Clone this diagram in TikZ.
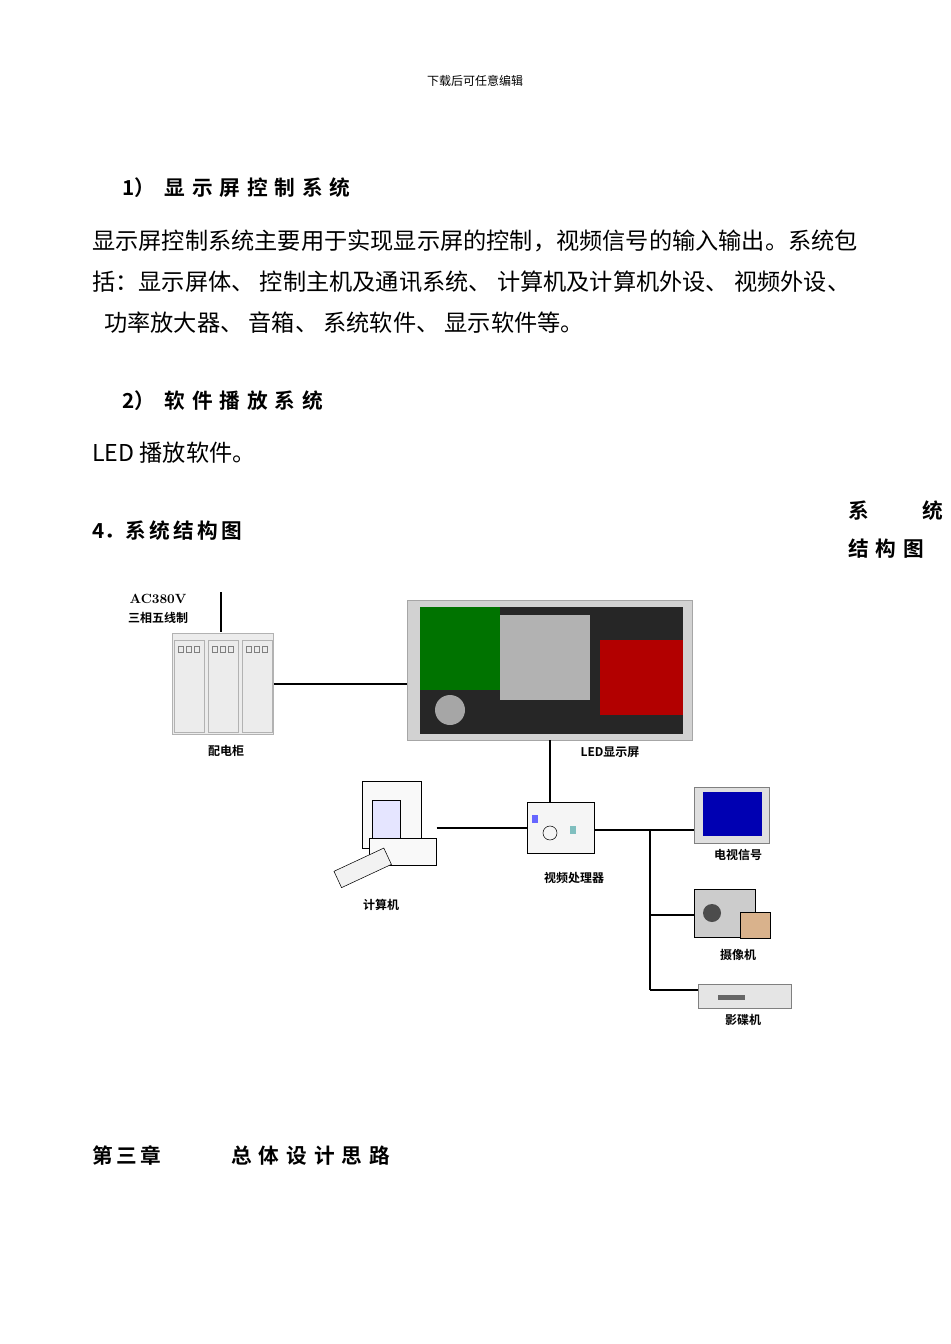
\documentclass[tikz,border=0pt]{standalone}
\usepackage{fontspec}
\newfontfamily\cjk{Noto Sans CJK SC}
\newfontfamily\cjkb{Noto Sans CJK SC Bold}
\begin{document}
\begin{tikzpicture}[x=0.75pt,y=-0.75pt,
  body/.style={font=\cjk\fontsize{17.4}{18}\selectfont,anchor=west,inner sep=0},
  head/.style={font=\cjkb\fontsize{15.5}{18}\selectfont,anchor=west,inner sep=0},
  lab/.style={font=\cjkb\fontsize{9}{10}\selectfont,inner sep=0},
  wire/.style={line width=2.2pt,black}]
\useasboundingbox (0,0) rectangle (950,1344);
\fill[white] (0,0) rectangle (950,1344);
\node[font=\cjk\fontsize{9}{10}\selectfont] (hdr) at (475,81) {下载后可任意编辑};
\node[head] (h1) at (122,188) {1）\ \ 显\,\,示\,\,屏\,\,控\,\,制\,\,系\,\,统};
\node[body] (p1) at (92,241) {显示屏控制系统主要用于实现显示屏的控制，视频信号的输入输出。系统包};
\node[body] (p2) at (92,282) {括：显示屏体、\ 控制主机及通讯系统、\ 计算机及计算机外设、\ 视频外设、};
\node[body] (p3) at (104,323) {功率放大器、\ 音箱、\ 系统软件、\ 显示软件等。};
\node[head] (h2) at (122,401) {2）\ \ 软\,\,件\,\,播\,\,放\,\,系\,\,统};
\node[body] (p4) at (92,453) {LED 播放软件。};
\node[head] (h4) at (92,531) {4．系\,统\,结\,构\,图};
\node[head] (r1) at (848,511) {系\hspace{2.6em}统};
\node[head] (r2) at (848,549) {结\,\,构\,\,图};
% power text
\node[lab,font=\bfseries\fontsize{10}{10}\selectfont] (ac) at (158,599) {AC380V};
\fill[white] (100,580) rectangle (220,593);
\node[lab] (ac2) at (158,618) {三相五线制};
% cabinet
\node[draw=gray!60,fill=gray!15,minimum width=76pt,minimum height=76pt,inner sep=0] (cab) at (223,684) {};
\foreach \i in {0,1,2}{\draw[gray!60] (174+34*\i,640) rectangle (204+34*\i,732);
 \foreach \j in {0,1,2}{\draw[gray] (178+34*\i+8*\j,646) rectangle (183+34*\i+8*\j,652);}}
\node[lab] (cabl) at (226,751) {配电柜};
\coordinate (top) at (221,592);
\draw[wire] (top) -- (221,632);
% screen
\node[draw=gray!70,fill=gray!35,minimum width=214pt,minimum height=105pt,inner sep=0] (scr) at (550,670) {};
\fill[black!85] (420,607) rectangle (683,734);
\fill[green!45!black] (420,607) rectangle (500,690);
\fill[red!70!black] (600,640) rectangle (683,715);
\fill[gray!60] (500,615) rectangle (590,700);
\fill[gray!70] (450,710) circle (15);
\node[lab] (scrl) at (610,752) {\textit{LED}显示屏};
% processor
\node[draw=black,fill=gray!8,minimum width=50pt,minimum height=38pt,inner sep=0] (proc) at (561,828) {};
\draw (550,833) circle (7);
\fill[blue!60] (532,815) rectangle (538,823);
\fill[teal!50] (570,826) rectangle (576,834);
\node[lab] (procl) at (574,878) {视频处理器};
% computer
\node[draw=black,fill=gray!5,minimum width=44pt,minimum height=50pt,inner sep=0] (mon) at (392,815) {};
\fill[blue!10,draw=black] (372,800) rectangle (400,840);
\node[draw=black,fill=gray!5,minimum width=50pt,minimum height=20pt,inner sep=0] (pc) at (403,852) {};
\draw[fill=gray!10,rotate around={25:(360,868)}] (335,860) rectangle (390,878);
\node[lab] (pcl) at (381,905) {计算机};
% TV
\node[draw=gray,fill=gray!25,minimum width=56pt,minimum height=42pt,inner sep=0] (tv) at (732,815) {};
\fill[blue!70!black] (703,792) rectangle (762,836);
\node[lab] (tvl) at (738,855) {电视信号};
% camera
\node[draw=black,fill=gray!40,minimum width=46pt,minimum height=36pt,inner sep=0] (cam) at (725,913) {};
\fill[black!70] (712,913) circle (9);
\fill[brown!60,draw=black] (740,912) rectangle (770,938);
\node[lab] (caml) at (738,955) {摄像机};
% DVD
\node[draw=gray,fill=gray!20,minimum width=70pt,minimum height=18pt,inner sep=0] (dvd) at (745,996) {};
\fill[black!60] (718,995) rectangle (745,1000);
\node[lab] (dvdl) at (743,1020) {影碟机};
% wires
\draw[wire] (cab.east) -- (scr.west|-cab.east);
\draw[wire] (scr.south-|550,0) -- (proc.north-|550,0);
\draw[wire] (pc.east|-proc.west) -- (proc.west);
\coordinate (br) at (650,830);
\draw[wire] (proc.east|-br) -- (tv.west|-br);
\draw[wire] (br) -- (650,990);
\draw[wire] (650,915) -- (cam.west|-650,915);
\draw[wire] (650,990) -- (dvd.west|-650,990);
\node[head] (ch) at (92,1156) {第\,三\,章\hspace{3.4em}总\,\,体\,\,设\,\,计\,\,思\,\,路};
\end{tikzpicture}
\end{document}
